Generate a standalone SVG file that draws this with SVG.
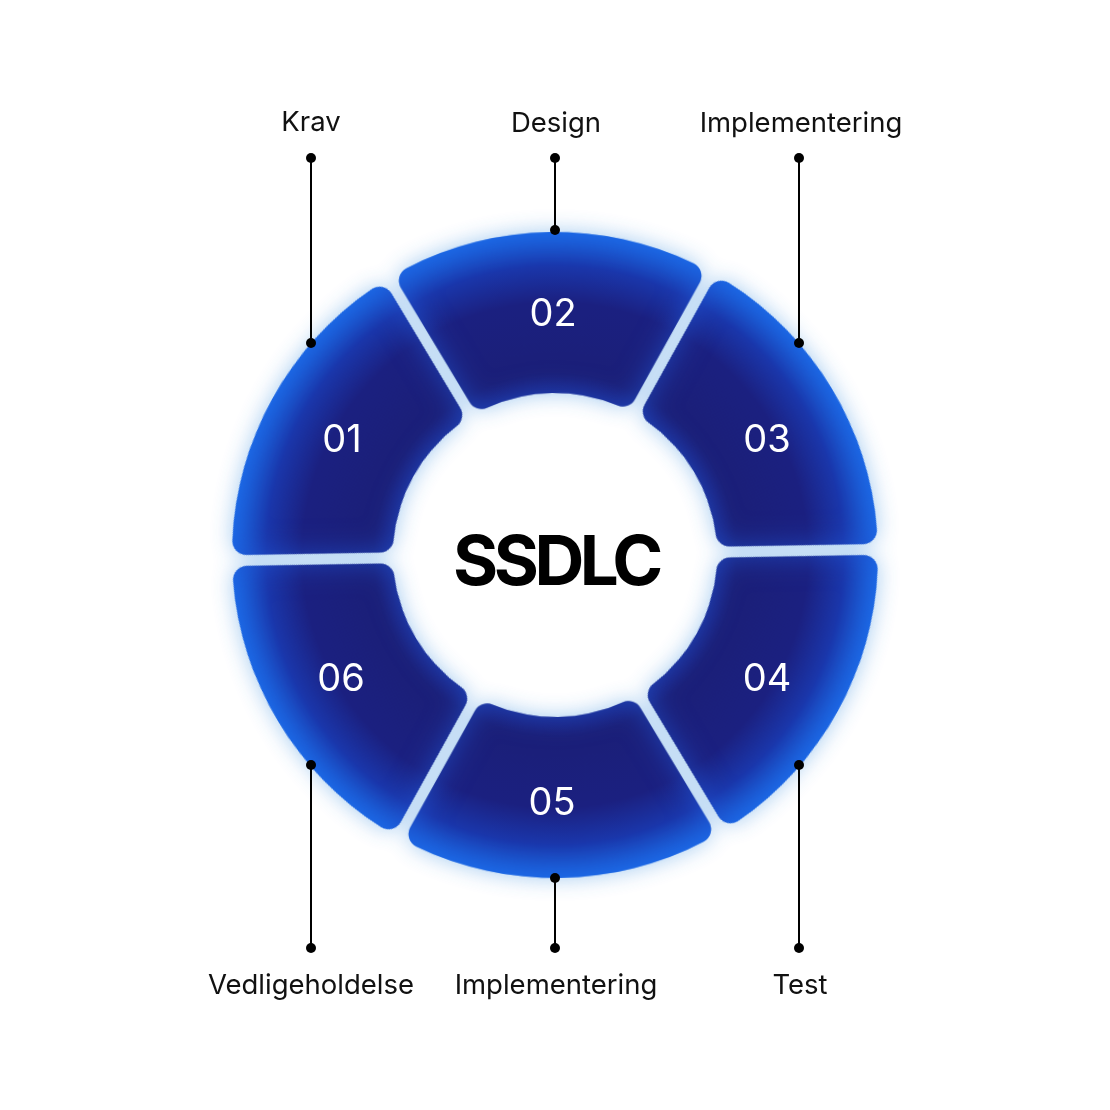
<svg xmlns="http://www.w3.org/2000/svg" width="1110" height="1110" viewBox="0 0 1110 1110">
<style>
.s{fill:url(#rg)}
.h{fill:#3388dd}
.num{font-family:Inter,"Liberation Sans",sans-serif;font-size:38px;fill:#ffffff;text-anchor:middle}
.lbl{font-family:Inter,"Liberation Sans",sans-serif;font-size:27.5px;fill:#111111;text-anchor:middle}
.ttl{font-family:Inter,"Liberation Sans",sans-serif;font-size:69px;font-weight:700;fill:#000000;text-anchor:middle}
.ln{stroke:#000;stroke-width:2;fill:none}
.dot{fill:#000}
</style>
<defs>
<radialGradient id="rg" gradientUnits="userSpaceOnUse" cx="0" cy="0" r="324">
<stop offset="0.50" stop-color="#1c2688"/>
<stop offset="0.56" stop-color="#1b1f78"/>
<stop offset="0.78" stop-color="#1b2080"/>
<stop offset="0.89" stop-color="#1a36aa"/>
<stop offset="1" stop-color="#1a6eea"/>
</radialGradient>
<filter id="inner" x="-20%" y="-20%" width="140%" height="140%" color-interpolation-filters="sRGB">
<feGaussianBlur in="SourceAlpha" stdDeviation="14" result="b"/>
<feComposite in="SourceAlpha" in2="b" operator="out" result="e"/>
<feFlood flood-color="#1f58d8" flood-opacity="0.6"/>
<feComposite in2="e" operator="in" result="g"/>
<feMerge><feMergeNode in="SourceGraphic"/><feMergeNode in="g"/></feMerge>
</filter>
<filter id="halo" x="-20%" y="-20%" width="140%" height="140%">
<feGaussianBlur stdDeviation="11"/>
</filter>
<path id="seg" d="M -82.695 -154.232 L -149.429 -269.818 A 14 14 0 0 1 -143.53 -289.36 A 323 323 0 0 1 143.53 -289.36 A 14 14 0 0 1 149.429 -269.818 L 82.695 -154.232 A 14 14 0 0 1 64.96 -148.41 A 162 162 0 0 0 -64.96 -148.41 A 14 14 0 0 1 -82.695 -154.232 Z"/>
</defs>
<rect width="1110" height="1110" fill="#ffffff"/>
<g id="halo-layer" transform="translate(555,555)" filter="url(#halo)" opacity="0.45">
<use href="#seg" class="h" transform="rotate(-1)"/>
<use href="#seg" class="h" transform="rotate(59)"/>
<use href="#seg" class="h" transform="rotate(119)"/>
<use href="#seg" class="h" transform="rotate(179)"/>
<use href="#seg" class="h" transform="rotate(239)"/>
<use href="#seg" class="h" transform="rotate(299)"/>
</g>
<g id="connectors">
<line class="ln" x1="311" y1="158" x2="311" y2="343"/>
<circle class="dot" cx="311" cy="158" r="5"/>
<line class="ln" x1="555" y1="158" x2="555" y2="230"/>
<circle class="dot" cx="555" cy="158" r="5"/>
<line class="ln" x1="799" y1="158" x2="799" y2="343"/>
<circle class="dot" cx="799" cy="158" r="5"/>
<line class="ln" x1="311" y1="765" x2="311" y2="948"/>
<circle class="dot" cx="311" cy="948" r="5"/>
<line class="ln" x1="555" y1="878" x2="555" y2="948"/>
<circle class="dot" cx="555" cy="948" r="5"/>
<line class="ln" x1="799" y1="765" x2="799" y2="948"/>
<circle class="dot" cx="799" cy="948" r="5"/>
</g>
<g id="seg01">
<use href="#seg" class="s" filter="url(#inner)" transform="translate(555,555) rotate(299)"/>
<text class="num" x="342" y="451.5">01</text>
</g>
<g id="seg02">
<use href="#seg" class="s" filter="url(#inner)" transform="translate(555,555) rotate(-1)"/>
<text class="num" x="553" y="325.5">02</text>
</g>
<g id="seg03">
<use href="#seg" class="s" filter="url(#inner)" transform="translate(555,555) rotate(59)"/>
<text class="num" x="767" y="451.5">03</text>
</g>
<g id="seg04">
<use href="#seg" class="s" filter="url(#inner)" transform="translate(555,555) rotate(119)"/>
<text class="num" x="767" y="690.5">04</text>
</g>
<g id="seg05">
<use href="#seg" class="s" filter="url(#inner)" transform="translate(555,555) rotate(179)"/>
<text class="num" x="552" y="814.5">05</text>
</g>
<g id="seg06">
<use href="#seg" class="s" filter="url(#inner)" transform="translate(555,555) rotate(239)"/>
<text class="num" x="341" y="690.5">06</text>
</g>
<g id="dots-on-ring">
<circle class="dot" cx="311" cy="343" r="5"/>
<circle class="dot" cx="555" cy="230" r="5"/>
<circle class="dot" cx="799" cy="343" r="5"/>
<circle class="dot" cx="311" cy="765" r="5"/>
<circle class="dot" cx="555" cy="878" r="5"/>
<circle class="dot" cx="799" cy="765" r="5"/>
</g>
<g id="labels">
<text class="lbl" x="311" y="131">Krav</text>
<text class="lbl" x="556" y="132">Design</text>
<text class="lbl" x="801" y="132">Implementering</text>
<text class="lbl" x="311" y="994">Vedligeholdelse</text>
<text class="lbl" x="556" y="994">Implementering</text>
<text class="lbl" x="800" y="994">Test</text>
</g>
<g id="center">
<text class="ttl" x="556" y="585" letter-spacing="-4.5">SSDLC</text>
</g>
</svg>
